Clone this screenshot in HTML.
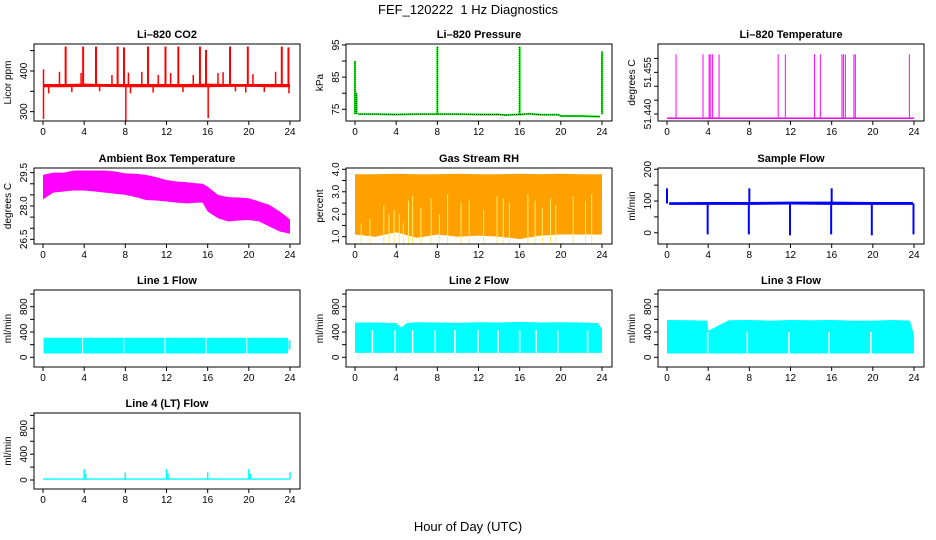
<!DOCTYPE html>
<html><head><meta charset="utf-8"><style>
html,body{margin:0;padding:0;background:#fff}
svg{display:block;font-family:"Liberation Sans",sans-serif}
.tl{font-size:10px}
.tt{font-size:11px;font-weight:bold}
</style></head><body>
<svg id="fig" width="936" height="540" viewBox="0 0 936 540" xmlns="http://www.w3.org/2000/svg">
<text x="468" y="14" text-anchor="middle" font-size="13" xml:space="preserve">FEF_120222&#160; 1 Hz Diagnostics</text>
<text x="468" y="531" text-anchor="middle" font-size="13">Hour of Day (UTC)</text>
</svg>
<script>
// ---------- data ----------
const xTicks = [0,4,8,12,16,20,24];
// CO2
const co2BaseHours = [0,2,4,6,8,10,12,14,16,18,20,22,24];
const co2BaseLow = [360,360,361,361,360,360,360,360,360,361,361,360,360];
const co2BaseHigh = [368,368,369,368,368,368,368,368,369,368,368,368,368];
const co2SpikeHours = [2.2,3.9,5.15,7.25,7.87,10.2,11.9,13.15,15.25,15.84,18.17,19.9,23.2,23.85];
const co2SpikeValues = [460,460,460,460,458,460,460,460,460,452,460,460,460,458];
const co2SmallHours = [0.05,1.6,3.7,6.7,8.3,9.6,11.2,12.4,14.6,17,17.5,20.4,22.6,0.55,2.8,5.5,8.5,10.7,13.6,18.7,19.7,21.5,23.9];
const co2SmallValues = [404,398,395,390,396,398,390,395,390,395,397,392,398,345,348,350,345,347,348,350,347,348,345];
const co2DownHours = [0.05,8.05,16.05];
const co2DownValues = [282,277,284];
// Pressure
const presHours = [0.3,2,4,6,8,10,12,14,14.5,16,17,18,19.8,20,22,23.8];
const presValues = [73.5,73.5,73.4,73.5,73.5,73.5,73.4,73.4,73.2,73.4,73.6,73.3,73.3,72.9,72.9,72.7];
const presSpikeHours = [0,0.15,8,16,24];
const presSpikeValues = [90,80,94.5,94.5,93];
// Li-820 temperature
const ltBase = 51.4385;
const ltSpikeHours = [0.88,3.5,4.09,4.2,4.41,5.06,10.8,11.5,14.33,14.9,17.0,17.14,17.33,18.16,18.3,23.55];
const ltSpikeValues = [51.4615,51.4615,51.4615,51.4615,51.4615,51.4615,51.4615,51.4615,51.4615,51.4615,51.4615,51.4615,51.4615,51.4615,51.4615,51.4615];
// Ambient box temperature
const ambHours = [0,1,2,3,4,5,6,7,8,9,10,11,12,13,14,15,15.5,16,17,18,19,20,21,22,23,24];
const ambHigh = [29.4,29.5,29.5,29.6,29.6,29.6,29.6,29.55,29.47,29.45,29.4,29.3,29.17,29.1,29.07,29.02,29.0,28.87,28.5,28.4,28.38,28.35,28.2,28.05,27.75,27.4];
const ambLow = [28.3,28.6,28.65,28.7,28.7,28.65,28.6,28.55,28.5,28.4,28.27,28.25,28.2,28.15,28.12,28.15,28.15,27.75,27.45,27.3,27.35,27.37,27.3,27.07,26.85,26.75];
// Gas stream RH
const rhHours = [0,2,4,6,8,10,12,14,16,18,20,22,24];
const rhHigh = [3.78,3.78,3.8,3.78,3.78,3.8,3.78,3.78,3.8,3.78,3.8,3.78,3.78];
const rhLow = [1.1,1.0,1.2,0.95,1.1,1.0,1.05,1.0,0.9,1.05,1.1,1.1,1.1];
const rhGapHours = [0.6,1.45,2.8,3.3,3.8,4.3,4.7,5.2,5.6,6.4,7.4,8.2,9.0,10.3,11.1,12.5,13.8,14.4,15.0,16.8,17.5,18.2,19.0,19.5,21.2,22.4,23.0];
const rhGapValues = [1.6,1.8,2.4,2.0,2.2,2.0,1.6,2.6,2.8,2.3,2.7,2.0,2.9,2.5,2.6,2.2,2.8,2.7,2.5,2.9,2.6,2.3,2.7,2.4,2.8,2.6,2.9];
// Sample flow
const sfHours = [0.2,4,8,12,16,20,23.9];
const sfLow = [88,88,88,89,88,88,88];
const sfHigh = [96,97,97,98,98,97,97];
const sfUpHours = [0,8,16];
const sfUpValues = [140,140,140];
const sfDownHours = [3.95,7.95,11.95,15.95,19.9,23.95];
const sfDownValues = [-5,-5,-8,-5,-8,-5];
// Line flows
const l1Low = 60, l1High = 310;
const l1GapHours = [3.85,7.85,11.85,15.85,19.8];
const l2Low = 70;
const l2TopHours = [0,2,4,4.5,5,6,8,10,12,14,16,18,20,22,23.6,24];
const l2TopValues = [550,550,540,470,540,555,550,545,555,550,560,550,555,550,540,450];
const l2GapHours = [1.7,3.9,5.6,7.8,9.7,11.95,13.9,16.0,17.6,19.7,22.6];
const l3Low = 60;
const l3TopHours = [0,2,3.9,4,6,8,10,12,14,16,18,20,22,23.6,24];
const l3TopValues = [590,585,580,420,585,590,580,590,585,590,580,580,590,580,360];
const l3GapHours = [3.95,7.8,11.85,15.75,19.8];
const l4Base = 15;
const l4SpikeHours = [4,4.15,8,12,12.15,16,20,20.15,24];
const l4SpikeValues = [170,100,120,170,100,120,170,100,120];

// ---------- layout ----------
const NS = "http://www.w3.org/2000/svg";
const svg = document.getElementById('fig');
const colLeft = [34,346,658];
const rowTop = [44,168,290,413];
const rowH = [77,76,77,76];
const W = 266;
function el(tag, attrs, parent){
  const e = document.createElementNS(NS, tag);
  for (const k in attrs) e.setAttribute(k, attrs[k]);
  (parent||svg).appendChild(e);
  return e;
}
function panel(col,row,name,title,ylab,ymin,ymax,yTicks,yLabels){
  const L = colLeft[col], T = rowTop[row], H = rowH[row], B = T+H;
  const g = el('g',{});
  
  
  const p = {L,T,B,g,
    x: h => L + 9 + h*(247/24),
    y: v => B - (v-ymin)/(ymax-ymin)*H};
  const plot = el('g',{'clip-path':'url(#clip'+name+')'}, g);
  const cp = el('clipPath',{id:'clip'+name}, g);
  el('rect',{x:L,y:T,width:W,height:H}, cp);
  p.plot = plot;
  const t = el('text',{x:L+W/2,y:T-6,'text-anchor':'middle',class:'tt'}, g);
  t.textContent = title;
  
  
  const yl = el('text',{x:0,y:0,'text-anchor':'middle',class:'tl',transform:`translate(${L-23},${T+H/2}) rotate(-90)`}, g);
  yl.textContent = ylab;
  
  
  const xa = el('g',{}, g);
  
  
  el('line',{x1:p.x(0),x2:p.x(24),y1:B,y2:B,stroke:'#000'}, xa);
  xTicks.forEach(h=>{
    el('line',{x1:p.x(h),x2:p.x(h),y1:B,y2:B+4,stroke:'#000'}, xa);
    const tx = el('text',{x:p.x(h),y:B+14,'text-anchor':'middle',class:'tl'}, xa);
    tx.textContent = h;
  });
  const ya = el('g',{}, g);
  
  
  el('line',{x1:L,x2:L,y1:p.y(yTicks[0]),y2:p.y(yTicks[yTicks.length-1]),stroke:'#000'}, ya);
  yTicks.forEach((v,i)=>{
    el('line',{x1:L-4,x2:L,y1:p.y(v),y2:p.y(v),stroke:'#000'}, ya);
    if (yLabels[i]!==''){
      const ty = el('text',{x:0,y:0,'text-anchor':'middle',class:'tl',transform:`translate(${L-7},${p.y(v)}) rotate(-90)`}, ya);
      ty.textContent = yLabels[i];
    }
  });
  const box = el('rect',{x:L,y:T,width:W,height:H,fill:'none',stroke:'#000'}, g);
  
  
  return p;
}
function band(p, hs, lo, hi, fill, name){
  let pts = hs.map((h,i)=>p.x(h)+','+p.y(hi[i]));
  pts = pts.concat(hs.map((h,i)=>p.x(h)+','+p.y(lo[i])).reverse());
  const e = el('polygon',{points:pts.join(' '),fill:fill}, p.plot);
  
  
  return e;
}
function vline(p, h, v0, v1, color, w, name){
  const e = el('line',{x1:p.x(h),x2:p.x(h),y1:p.y(v0),y2:p.y(v1),stroke:color,'stroke-width':w}, p.plot);
  
  
  return e;
}
function polyline(p, hs, vs, color, w, name, dash){
  const a = {points:hs.map((h,i)=>p.x(h)+','+p.y(vs[i])).join(' '),fill:'none',stroke:color,'stroke-width':w};
  if (dash) a['stroke-dasharray']=dash;
  const e = el('polyline',a,p.plot);
  
  
}

// CO2
let p = panel(0,0,'co2','Li\u2013820 CO2','Licor ppm',277,466.3,[300,350,400,450],['300','','400','']);
band(p, co2BaseHours, co2BaseLow, co2BaseHigh, '#ff0000', 'co2-baseline');
co2SmallHours.forEach((h,i)=>vline(p,h,365,co2SmallValues[i],'#ff0000',1.5,'co2-small-spike'));
co2SpikeHours.forEach((h,i)=>vline(p,h,365,co2SpikeValues[i],'#ff0000',2,'co2-spike'));
co2DownHours.forEach((h,i)=>vline(p,h,365,co2DownValues[i],'#ff0000',1.5,'co2-down-spike'));

// Pressure
p = panel(1,0,'pressure','Li\u2013820 Pressure','kPa',71.36,95.3,[75,80,85,90,95],['75','','85','','95']);
polyline(p, presHours, presValues, '#00ff00', 2, 'pressure-line');
presSpikeHours.forEach((h,i)=>{vline(p,h,73.5,presSpikeValues[i],'#00ff00',2,'pressure-spike');
  vline(p,h,73.5,presSpikeValues[i],'#000',0.8,'pressure-spike-dots').setAttribute('stroke-dasharray','1,1');});
polyline(p, presHours, presValues, '#000', 0.8, 'pressure-dots', '1,1');

// Li-820 temperature
p = panel(2,0,'li820-temp','Li\u2013820 Temperature','degrees C',51.4375,51.4652,[51.440,51.445,51.450,51.455,51.460],['51.440','','','51.455','']);
polyline(p, [0,24], [ltBase,ltBase], '#ff00ff', 1.5, 'li820-temp-baseline');
ltSpikeHours.forEach((h,i)=>vline(p,h,ltBase,ltSpikeValues[i],'#ff00ff',1,'li820-temp-spike'));

// Ambient
p = panel(0,1,'ambient','Ambient Box Temperature','degrees C',26.29,29.71,[26.5,27,27.5,28,28.5,29,29.5],['26.5','','','28.0','','','29.5']);
band(p, ambHours, ambLow, ambHigh, '#ff00ff', 'ambient-temp-band');

// RH
p = panel(1,1,'rh','Gas Stream RH','percent',0.675,4.058,[1,1.5,2,2.5,3,3.5,4],['1.0','','2.0','','3.0','','4.0']);
band(p, rhHours, rhLow, rhHigh, '#ffa000', 'rh-band');
rhGapHours.forEach((h,i)=>vline(p,h,0.7,rhGapValues[i],'#ffee66',1,'rh-gap'));

// Sample flow
p = panel(2,1,'sample-flow','Sample Flow','ml/min',-35.3,204,[0,50,100,150,200],['0','','100','','200']);
band(p, sfHours, sfLow, sfHigh, '#0000ff', 'sample-flow-band');
sfUpHours.forEach((h,i)=>vline(p,h,92,sfUpValues[i],'#0000ff',2,'sample-flow-up-spike'));
sfDownHours.forEach((h,i)=>vline(p,h,92,sfDownValues[i],'#0000ff',2,'sample-flow-drop'));

const lfTicks=[0,200,400,600,800,1000], lfLabels=['0','','400','','800',''];
// Line 1
p = panel(0,2,'line1','Line 1 Flow','ml/min',-153,1064,lfTicks,lfLabels);
band(p,[0.05,23.8],[l1Low,l1Low],[l1High,l1High],'#00ffff','line1-band');
vline(p,23.95,120,270,'#00ffff',2,'line1-tail');
l1GapHours.forEach(h=>vline(p,h,l1Low-5,l1High+5,'#fff',1,'line1-gap'));
// Line 2
p = panel(1,2,'line2','Line 2 Flow','ml/min',-153,1064,lfTicks,lfLabels);
band(p,l2TopHours,l2TopHours.map(()=>l2Low),l2TopValues,'#00ffff','line2-band');
l2GapHours.forEach(h=>vline(p,h,l2Low-5,430,'#fff',1.5,'line2-gap'));
// Line 3
p = panel(2,2,'line3','Line 3 Flow','ml/min',-153,1064,lfTicks,lfLabels);
band(p,l3TopHours,l3TopHours.map(()=>l3Low),l3TopValues,'#00ffff','line3-band');
l3GapHours.forEach(h=>vline(p,h,l3Low-5,400,'#fff',1.5,'line3-gap'));
// Line 4
p = panel(0,3,'line4','Line 4 (LT) Flow','ml/min',-139,1037,lfTicks,lfLabels);
band(p,[0,24],[l4Base-10,l4Base-10],[l4Base+10,l4Base+10],'#00ffff','line4-baseline');
l4SpikeHours.forEach((h,i)=>vline(p,h,l4Base,l4SpikeValues[i],'#00ffff',1.5,'line4-spike'));
</script>
</body></html>
